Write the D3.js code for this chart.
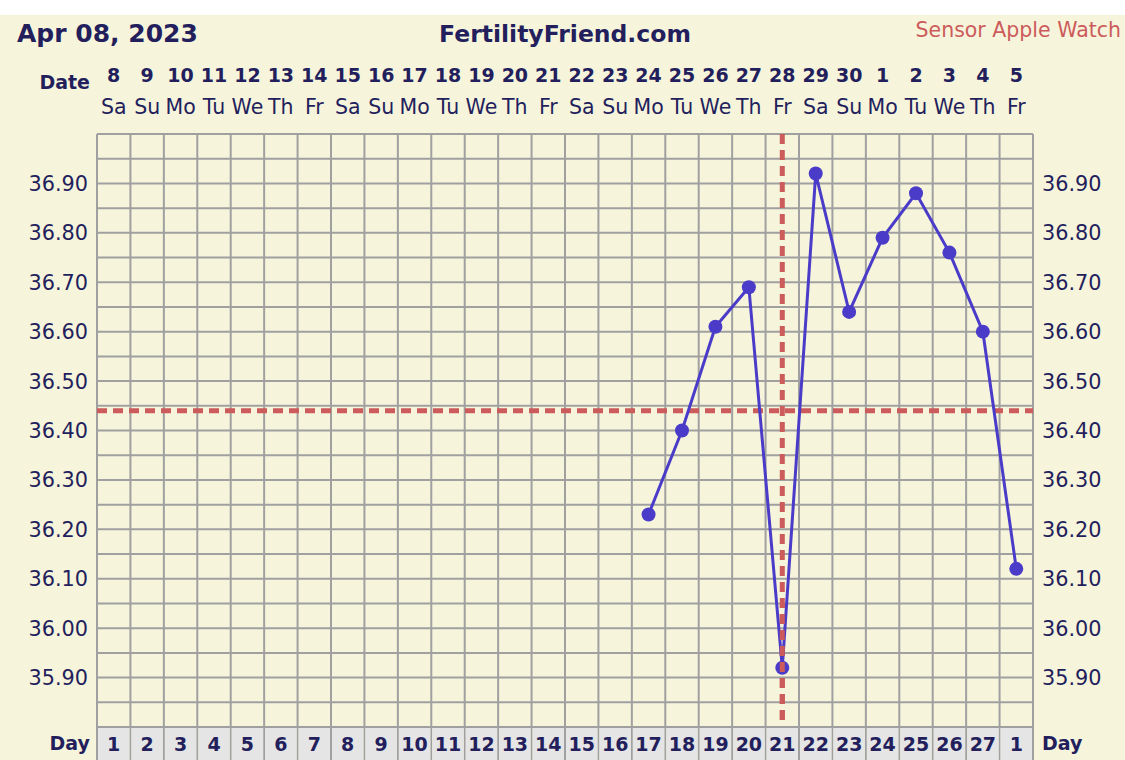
<!DOCTYPE html>
<html><head><meta charset="utf-8">
<script src="https://cdn.jsdelivr.net/npm/d3@7"></script>
<style>body{margin:0;background:#fff;}svg{display:block;}</style>
</head><body>
<script>
const dates = ["8","9","10","11","12","13","14","15","16","17","18","19","20","21","22","23","24","25","26","27","28","29","30","1","2","3","4","5"];
const weekdays = ["Sa","Su","Mo","Tu","We","Th","Fr","Sa","Su","Mo","Tu","We","Th","Fr","Sa","Su","Mo","Tu","We","Th","Fr","Sa","Su","Mo","Tu","We","Th","Fr"];
const cycleDays = ["1","2","3","4","5","6","7","8","9","10","11","12","13","14","15","16","17","18","19","20","21","22","23","24","25","26","27","1"];
const tempIdx = [16,17,18,19,20,21,22,23,24,25,26,27];
const temps = [36.23,36.40,36.61,36.69,35.92,36.92,36.64,36.79,36.88,36.76,36.60,36.12];
const yTicks = [35.90,36.00,36.10,36.20,36.30,36.40,36.50,36.60,36.70,36.80,36.90];
const coverline = 36.44;
const ovulationIdx = 20;

(function(){
const W=1125,H=760;
const navy="#231f5c", grid="#a0a0a0", red="#cc5b5b", blue="#4a3cc8", cream="#f7f4dc";
const FONT="'DejaVu Sans', Verdana, sans-serif";
const svg=d3.select("body").append("svg").attr("width",W).attr("height",H).style("font-family",FONT);
svg.append("rect").attr("x",0).attr("y",15).attr("width",W).attr("height",H-15).attr("fill",cream);

const gL=97,gR=1033,gT=134,gB=727;
const x=d3.scaleBand().domain(d3.range(28)).range([gL,gR]);
const y=d3.scaleLinear().domain([35.80,37.00]).range([gB,gT]);
const cx=i=>x(i)+x.bandwidth()/2;

// grid
const hLines=d3.range(0,25).map(i=>35.80+i*0.05);
svg.append("g").selectAll("line").data(hLines).join("line")
 .attr("x1",gL).attr("x2",gR).attr("y1",d=>y(d)).attr("y2",d=>y(d))
 .attr("stroke",grid).attr("stroke-width",2);
svg.append("g").selectAll("line").data(d3.range(29)).join("line")
 .attr("x1",i=>gL+i*x.bandwidth()).attr("x2",i=>gL+i*x.bandwidth())
 .attr("y1",gT).attr("y2",H).attr("stroke",grid).attr("stroke-width",2);

// day row
svg.append("g").selectAll("rect").data(d3.range(28)).join("rect")
 .attr("x",i=>x(i)+1).attr("y",gB+1).attr("width",x.bandwidth()-2).attr("height",H-gB)
 .attr("fill","#e5e5e5");
svg.append("line").attr("x1",gL).attr("x2",gR).attr("y1",gB).attr("y2",gB).attr("stroke",grid).attr("stroke-width",2);
svg.append("g").selectAll("text").data(cycleDays).join("text")
 .attr("x",(d,i)=>cx(i)).attr("y",751).attr("text-anchor","middle")
 .attr("font-size",19).attr("font-weight","bold").attr("fill",navy).text(d=>d);
svg.append("text").attr("x",90).attr("y",750).attr("text-anchor","end").attr("font-size",19).attr("font-weight","bold").attr("fill",navy).text("Day");
svg.append("text").attr("x",1042).attr("y",750).attr("font-size",19).attr("font-weight","bold").attr("fill",navy).text("Day");

// header
svg.append("text").attr("x",17).attr("y",42).attr("font-size",25).attr("font-weight","bold").attr("fill",navy).text("Apr 08, 2023");
svg.append("text").attr("x",565).attr("y",42).attr("text-anchor","middle").attr("font-size",23.5).attr("font-weight","bold").attr("fill",navy).text("FertilityFriend.com");
svg.append("text").attr("x",1121).attr("y",37).attr("text-anchor","end").attr("font-size",20.5).attr("fill",red).text("Sensor Apple Watch");

// date row
svg.append("text").attr("x",90).attr("y",89).attr("text-anchor","end").attr("font-size",19).attr("font-weight","bold").attr("fill",navy).text("Date");
svg.append("g").selectAll("text").data(dates).join("text")
 .attr("x",(d,i)=>cx(i)).attr("y",82).attr("text-anchor","middle")
 .attr("font-size",19).attr("font-weight","bold").attr("fill",navy).text(d=>d);
svg.append("g").selectAll("text").data(weekdays).join("text")
 .attr("x",(d,i)=>cx(i)).attr("y",114).attr("text-anchor","middle")
 .attr("font-size",20.5).attr("fill",navy).text(d=>d);

// y labels
const fmt=d3.format(".2f");
svg.append("g").selectAll("text").data(yTicks).join("text")
 .attr("x",88).attr("y",d=>y(d)+7.5).attr("text-anchor","end").attr("font-size",20.8).attr("fill",navy).text(d=>fmt(d));
svg.append("g").selectAll("text").data(yTicks).join("text")
 .attr("x",1042).attr("y",d=>y(d)+7.5).attr("font-size",20.8).attr("fill",navy).text(d=>fmt(d));

// coverline & ovulation
svg.append("line").attr("x1",gL).attr("x2",gR).attr("y1",y(coverline)).attr("y2",y(coverline))
 .attr("stroke",red).attr("stroke-width",5).attr("stroke-dasharray","10,6");
svg.append("line").attr("x1",cx(ovulationIdx)).attr("x2",cx(ovulationIdx)).attr("y1",gT).attr("y2",gB-3)
 .attr("stroke",red).attr("stroke-width",5).attr("stroke-dasharray","10,6");

// data
const pts=temps.map((t,i)=>[cx(tempIdx[i]),y(t)]);
svg.append("path").attr("d",d3.line()(pts)).attr("fill","none").attr("stroke",blue).attr("stroke-width",3);
svg.append("g").selectAll("circle").data(pts).join("circle")
 .attr("cx",d=>d[0]).attr("cy",d=>d[1]).attr("r",7).attr("fill",blue);
// ovulation dashes drawn over the line near the low point, as in reference
const y0=y(36.05);
svg.append("line").attr("x1",cx(ovulationIdx)).attr("x2",cx(ovulationIdx)).attr("y1",y0).attr("y2",gB-3)
 .attr("stroke",red).attr("stroke-width",5).attr("stroke-dasharray","10,6").attr("stroke-dashoffset",(y0-gT)%16);
})();
</script>
</body></html>
